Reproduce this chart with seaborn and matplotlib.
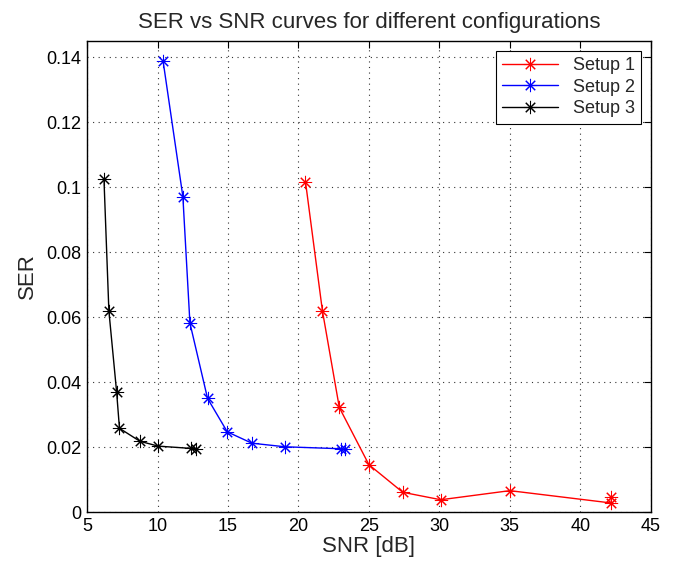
import numpy as np
import pandas as pd
import seaborn as sns
import matplotlib
matplotlib.use("Agg")
import matplotlib.pyplot as plt

sns.set_style("white")
plt.rcParams["font.family"] = ["Liberation Sans", "DejaVu Sans"]

# values
snr_setup1 = [20.5, 21.7, 22.9, 25.0, 27.4, 30.1, 35.0, 42.2, 42.2]
ser_setup1 = [0.1017, 0.0620, 0.0322, 0.0146, 0.0061, 0.0038, 0.0066, 0.0028, 0.0046]

snr_setup2 = [10.4, 11.8, 12.3, 13.55, 14.95, 16.7, 19.05, 23.0, 23.3]
ser_setup2 = [0.1387, 0.0971, 0.0582, 0.0350, 0.0247, 0.0212, 0.0201, 0.0195, 0.0193]

snr_setup3 = [6.2, 6.55, 7.1, 7.3, 8.75, 10.05, 12.4, 12.75]
ser_setup3 = [0.1026, 0.0619, 0.0369, 0.0258, 0.0218, 0.0203, 0.0196, 0.0193]

labels = ["Setup 1", "Setup 2", "Setup 3"]
colors = ["#ff0000", "#0000ff", "#000000"]

frames = []
for lab, xs, ys in zip(labels, [snr_setup1, snr_setup2, snr_setup3],
                       [ser_setup1, ser_setup2, ser_setup3]):
    frames.append(pd.DataFrame({"SNR": xs, "SER": ys, "setup": lab}))
df = pd.concat(frames, ignore_index=True)

fig = plt.figure(figsize=(6.8, 5.69), dpi=100)
ax = fig.add_axes([0.128, 0.1, 0.829, 0.828])

# MATLAB-style '*' marker: 8-armed asterisk
sns.lineplot(data=df, x="SNR", y="SER", hue="setup", palette=colors,
             hue_order=labels, marker=(8, 2, 0), markersize=9.5,
             markeredgewidth=0.75, linewidth=1.0, sort=False,
             estimator=None, units="setup", legend=False, ax=ax)

lines = ax.get_lines()
for ln in lines:
    ln.set_markeredgecolor(ln.get_color())

ax.set_xlim(5, 45)
ax.set_ylim(0, 0.145)
ax.set_xticks(np.arange(5, 46, 5))
ax.set_yticks([0, 0.02, 0.04, 0.06, 0.08, 0.1, 0.12, 0.14])
ax.set_yticklabels(["0", "0.02", "0.04", "0.06", "0.08", "0.1", "0.12", "0.14"])
ax.grid(True, linestyle=(0, (1, 4)), color="#333333", linewidth=0.8)
ax.tick_params(direction="in", top=True, right=True, length=5, labelsize=13,
               colors="black", pad=4)
for s in ax.spines.values():
    s.set_color("black")
    s.set_linewidth(1.0)

ax.set_xlabel("SNR [dB]", fontsize=16, labelpad=1)
ax.set_ylabel("SER", fontsize=16, labelpad=6)
ax.set_title("SER vs SNR curves for different configurations", fontsize=16, pad=9)

leg = ax.legend(lines[:3], labels, loc="upper right", fontsize=13,
                fancybox=False, framealpha=1, edgecolor="black",
                handlelength=3.1, borderaxespad=0.55, labelspacing=0.25,
                borderpad=0.35)
leg.get_frame().set_linewidth(0.8)

fig.savefig("out.png", dpi=100)
